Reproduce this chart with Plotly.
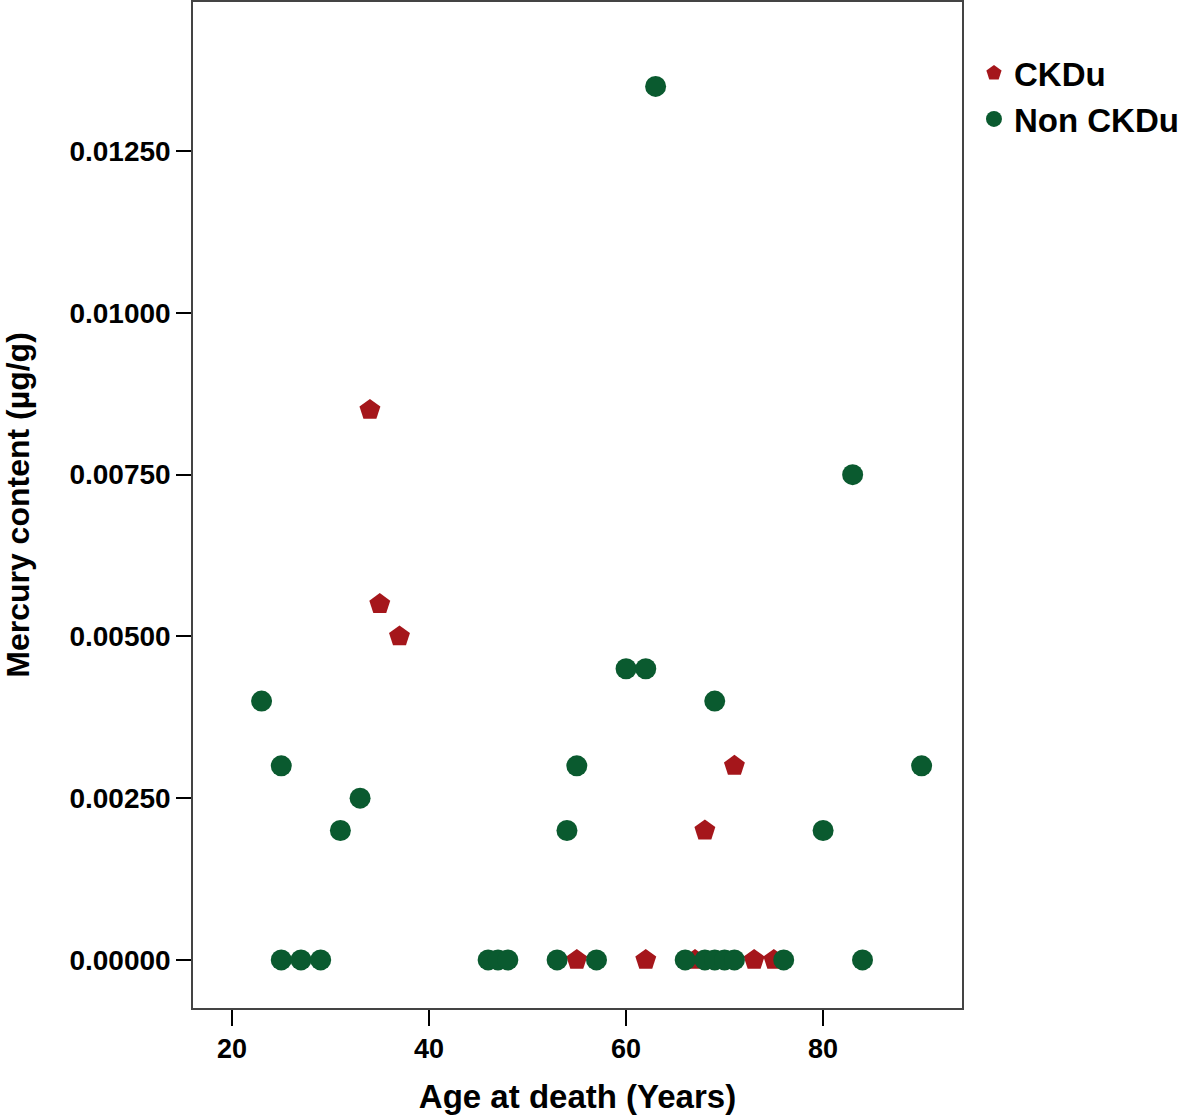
import plotly.graph_objects as go

# CKDu group
ckdu_age = [34, 35, 37, 71, 68, 55, 62, 67, 73, 75]
ckdu_hg = [0.0085, 0.0055, 0.0050, 0.0030, 0.0020, 0.0, 0.0, 0.0, 0.0, 0.0]

# Non CKDu group
non_age = [63, 83, 60, 62, 69, 23, 25, 55, 90, 33, 31, 54, 80,
           25, 27, 29, 46, 47, 48, 53, 57, 66, 68, 69, 70, 71, 76, 84]
non_hg = [0.0135, 0.0075, 0.0045, 0.0045, 0.0040, 0.0040, 0.0030, 0.0030, 0.0030,
          0.0025, 0.0020, 0.0020, 0.0020,
          0.0, 0.0, 0.0, 0.0, 0.0, 0.0, 0.0, 0.0, 0.0, 0.0, 0.0, 0.0, 0.0, 0.0, 0.0]

x_ticks = [20, 40, 60, 80]
y_ticks = [0.0, 0.0025, 0.005, 0.0075, 0.01, 0.0125]

RED = "#A5161B"
GREEN = "#0A5A2F"
FONT = "Liberation Sans, Arial, sans-serif"

fig = go.Figure()
fig.add_trace(go.Scatter(
    x=ckdu_age, y=ckdu_hg, mode="markers", name="CKDu",
    marker=dict(symbol="pentagon", size=22, color=RED, line=dict(width=0)),
))
fig.add_trace(go.Scatter(
    x=non_age, y=non_hg, mode="markers", name="Non CKDu",
    marker=dict(symbol="circle", size=21, color=GREEN, line=dict(width=0)),
))

fig.update_layout(
    width=1181, height=1118,
    margin=dict(l=193, r=219, t=2, b=110, autoexpand=False),
    paper_bgcolor="white", plot_bgcolor="white",
    font=dict(family=FONT, color="black"),
    showlegend=True,
    legend=dict(
        xref="container", yref="container",
        x=0.8247, y=0.9597, xanchor="left", yanchor="top",
        font=dict(size=33, family=FONT, color="black", weight="bold"),
        bgcolor="rgba(0,0,0,0)", borderwidth=0,
        itemsizing="trace", tracegroupgap=0,
    ),
    xaxis=dict(
        range=[16.04, 94.1], tickvals=x_ticks,
        ticks="outside", ticklen=16, tickwidth=1.5, tickcolor="black",
        showgrid=False, zeroline=False,
        showline=True, linecolor="#444", linewidth=1.5, mirror=True,
        tickfont=dict(size=27, family=FONT, weight="bold"),
        title=dict(text="Age at death (Years)", standoff=22,
                   font=dict(size=33, family=FONT, weight="bold")),
    ),
    yaxis=dict(
        range=[-0.000743, 0.014805], tickvals=y_ticks, tickformat=".5f",
        ticks="outside", ticklen=15, tickwidth=1.5, tickcolor="black",
        showgrid=False, zeroline=False,
        showline=True, linecolor="#444", linewidth=1.5, mirror=True,
        tickfont=dict(size=28, family=FONT, weight="bold"),
        title=dict(text="Mercury content (µg/g)", standoff=30,
                   font=dict(size=32, family=FONT, weight="bold")),
    ),
)

fig.write_html("out.html",
               config={"displayModeBar": False},
               post_script="document.body.style.margin='0';")
